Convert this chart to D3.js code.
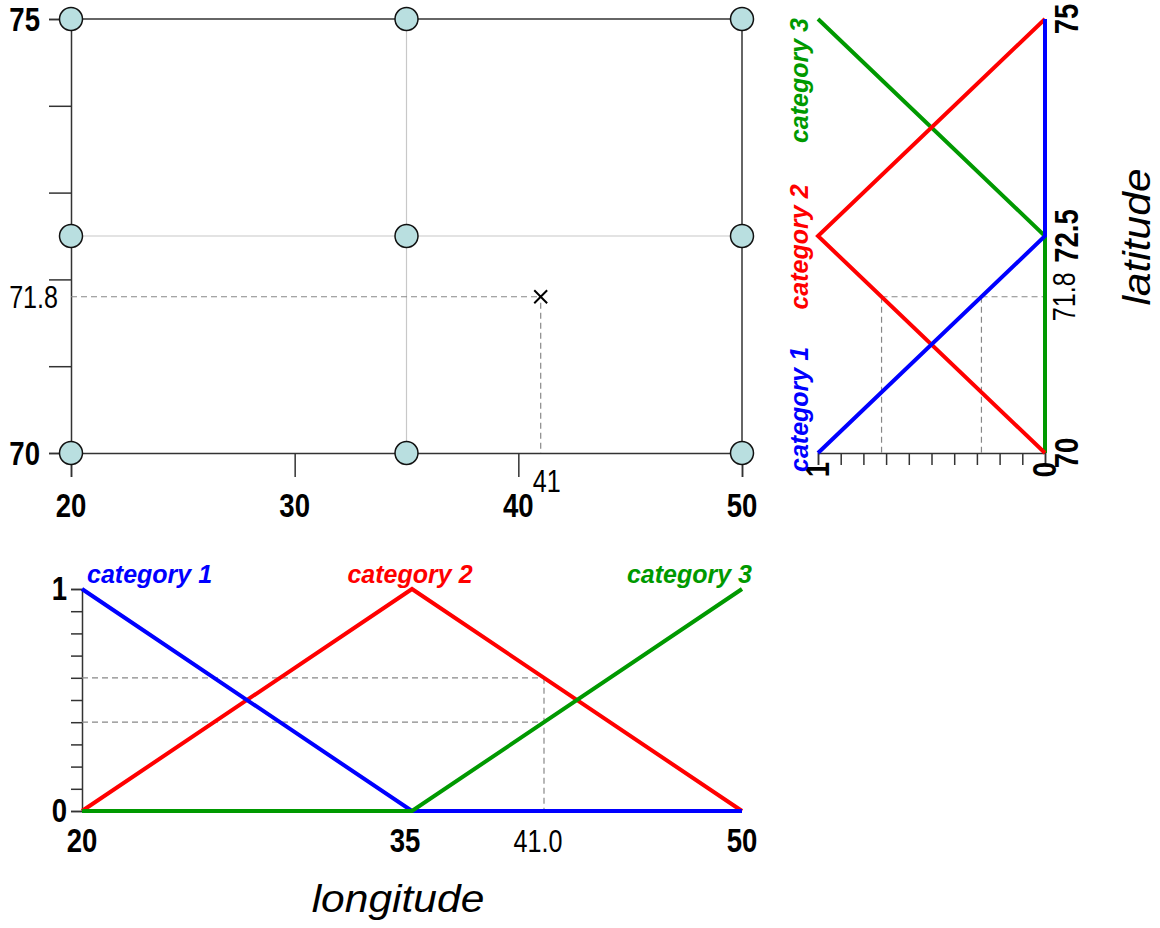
<!DOCTYPE html>
<html>
<head>
<meta charset="utf-8">
<script src="https://d3js.org/d3.v7.min.js"></script>
<style>
  body { margin: 0; background: #fff; }
  .tick-bold { font-family: "Liberation Sans", Arial, sans-serif; font-weight: bold; font-size: 34px; fill: #000; }
  .tick-norm { font-family: "Liberation Sans", Arial, sans-serif; font-size: 31px; fill: #000; }
  .cat { font-family: "Liberation Sans", Arial, sans-serif; font-weight: bold; font-style: italic; font-size: 25px; }
  .title { font-family: "Liberation Sans", Arial, sans-serif; font-style: italic; font-size: 38px; fill: #000; }
</style>
</head>
<body>
<svg id="chart" width="1160" height="928"></svg>
<script>
// data
const lonBreaks = [20, 35, 50];
const latBreaks = [70, 72.5, 75];
const categories = ["category 1", "category 2", "category 3"];
const colors = ["#0000ff", "#ff0000", "#009900"];
// membership of each category at the three breaks
const membership = [
  [1, 0, 0],
  [0, 1, 0],
  [0, 0, 1]
];
const lonTicks = [20, 30, 40, 50];
const latTicks = [70, 71, 72, 73, 74, 75];
const pointLon = 41;
const pointLat = 71.8;
const lonCuts = [0.6, 0.4];   // category 2, category 3 at 41
const latCuts = [0.72, 0.28]; // category 2, category 1 at 71.8

const svg = d3.select("#chart");
const axisCol = "#333";
const narrow = 0.81; // tick labels are condensed

// scales
const x = d3.scaleLinear().domain([20, 50]).range([71, 742]);
const y = d3.scaleLinear().domain([70, 75]).range([453, 19]);
const xb = d3.scaleLinear().domain([20, 50]).range([82, 742]);
const mb = d3.scaleLinear().domain([0, 1]).range([811, 589]);
const mr = d3.scaleLinear().domain([1, 0]).range([818, 1045]);

function label(g, cls, txt, px, py, anchor, rot) {
  return g.append("text").attr("class", cls).attr("text-anchor", anchor)
    .attr("transform", `translate(${px},${py})${rot ? " rotate(-90)" : ""} scale(${narrow},1)`)
    .text(txt);
}

// ---------- main panel ----------
const main = svg.append("g");
// grid
main.append("line").attr("x1", x(35)).attr("x2", x(35)).attr("y1", y(75)).attr("y2", y(70))
  .attr("stroke", "#c8c8c8").attr("stroke-width", 1.2);
main.append("line").attr("x1", x(20)).attr("x2", x(50)).attr("y1", y(72.5)).attr("y2", y(72.5))
  .attr("stroke", "#c8c8c8").attr("stroke-width", 1.2);
// frame top and right
main.append("line").attr("x1", x(20)).attr("x2", x(50)).attr("y1", y(75)).attr("y2", y(75))
  .attr("stroke", axisCol).attr("stroke-width", 1.5);
main.append("line").attr("x1", x(50)).attr("x2", x(50)).attr("y1", y(75)).attr("y2", y(70))
  .attr("stroke", axisCol).attr("stroke-width", 1.5);

// axes
const gx = main.append("g").attr("transform", `translate(0,${y(70)})`)
  .call(d3.axisBottom(x).tickValues(lonTicks).tickSize(24).tickFormat(""));
const gy = main.append("g").attr("transform", `translate(${x(20)},0)`)
  .call(d3.axisLeft(y).tickValues(latTicks).tickSize(22).tickFormat(""));
[gx, gy].forEach(g => {
  g.select(".domain").attr("stroke", axisCol).attr("stroke-width", 1.5);
  g.selectAll(".tick line").attr("stroke", axisCol).attr("stroke-width", 1.5);
});
lonTicks.forEach(d => label(main, "tick-bold", d, x(d), 517, "middle"));
[70, 75].forEach(d => label(main, "tick-bold", d, 40, y(d) + 12, "end"));

// dashed guides to the point
main.append("line").attr("x1", x(20)).attr("x2", x(pointLon)).attr("y1", y(pointLat)).attr("y2", y(pointLat))
  .attr("stroke", "#888").attr("stroke-width", 1.2).attr("stroke-dasharray", "6,4");
main.append("line").attr("x1", x(pointLon)).attr("x2", x(pointLon)).attr("y1", y(pointLat) + 6).attr("y2", y(70))
  .attr("stroke", "#888").attr("stroke-width", 1.2).attr("stroke-dasharray", "6,4");
label(main, "tick-norm", pointLat, 58, y(pointLat) + 11, "end");
label(main, "tick-norm", pointLon, x(pointLon) + 6, 492, "middle");
main.append("path")
  .attr("transform", `translate(${x(pointLon)},${y(pointLat)})`)
  .attr("d", d3.symbol(d3.symbolTimes, 110)())
  .attr("stroke", "#000").attr("stroke-width", 2).attr("fill", "none");

// grid nodes
const nodes = [];
lonBreaks.forEach(lo => latBreaks.forEach(la => nodes.push([lo, la])));
main.selectAll("circle").data(nodes).join("circle")
  .attr("cx", d => x(d[0])).attr("cy", d => y(d[1])).attr("r", 11.5)
  .attr("fill", "#b9dfe0").attr("stroke", "#111").attr("stroke-width", 1.5);

// ---------- bottom panel (longitude membership) ----------
const bot = svg.append("g");
const gbm = bot.append("g").attr("transform", `translate(${xb(20)},0)`)
  .call(d3.axisLeft(mb).tickValues(d3.range(0, 11).map(i => i / 10)).tickSize(11).tickFormat(""));
gbm.select(".domain").attr("stroke", axisCol).attr("stroke-width", 1.5);
gbm.selectAll(".tick line").attr("stroke", axisCol).attr("stroke-width", 1.5);
[0, 1].forEach(d => label(bot, "tick-bold", d, 67, mb(d) + 11, "end"));
lonBreaks.forEach(d => label(bot, "tick-bold", d, xb(d) + (d === 35 ? -7 : 0), 852, "middle"));
label(bot, "tick-norm", pointLon.toFixed(1), xb(pointLon) - 6, 852, "middle");

// dashed cuts
bot.selectAll(".hcut").data(lonCuts).join("line")
  .attr("x1", xb(20)).attr("x2", xb(pointLon)).attr("y1", d => mb(d)).attr("y2", d => mb(d))
  .attr("stroke", "#888").attr("stroke-width", 1.2).attr("stroke-dasharray", "6,4");
bot.append("line").attr("x1", xb(pointLon)).attr("x2", xb(pointLon))
  .attr("y1", mb(d3.max(lonCuts))).attr("y2", mb(0))
  .attr("stroke", "#888").attr("stroke-width", 1.2).attr("stroke-dasharray", "6,4");

const lineB = d3.line().x((d, i) => xb(lonBreaks[i])).y(d => mb(d));
[1, 0, 2].forEach(k => {
  bot.append("path").attr("d", lineB(membership[k]))
    .attr("fill", "none").attr("stroke", colors[k]).attr("stroke-width", 4);
});
bot.append("text").attr("class", "cat").attr("fill", colors[0]).attr("text-anchor", "start")
  .attr("x", xb(20) + 5).attr("y", mb(1) - 6).text(categories[0]);
bot.append("text").attr("class", "cat").attr("fill", colors[1]).attr("text-anchor", "middle")
  .attr("x", xb(35) - 2).attr("y", mb(1) - 6).text(categories[1]);
bot.append("text").attr("class", "cat").attr("fill", colors[2]).attr("text-anchor", "end")
  .attr("x", xb(50) + 10).attr("y", mb(1) - 6).text(categories[2]);

bot.append("text").attr("class", "title").attr("text-anchor", "middle")
  .attr("transform", "translate(398,912) scale(1.12,1)").text("longitude");

// ---------- right panel (latitude membership) ----------
const rp = svg.append("g");
const grm = rp.append("g").attr("transform", `translate(0,${y(70)})`)
  .call(d3.axisBottom(mr).tickValues(d3.range(0, 11).map(i => i / 10)).tickSize(12).tickFormat(""));
grm.select(".domain").attr("stroke", axisCol).attr("stroke-width", 1.5);
grm.selectAll(".tick line").attr("stroke", axisCol).attr("stroke-width", 1.5);
[1, 0].forEach(d => label(rp, "tick-bold", d, mr(d) + 11, 462, "end", true));

// dashed cuts
rp.append("line").attr("x1", mr(d3.max(latCuts))).attr("x2", mr(0))
  .attr("y1", y(pointLat)).attr("y2", y(pointLat))
  .attr("stroke", "#888").attr("stroke-width", 1.2).attr("stroke-dasharray", "6,4");
rp.selectAll(".vcut").data(latCuts).join("line")
  .attr("x1", d => mr(d)).attr("x2", d => mr(d)).attr("y1", y(pointLat)).attr("y2", y(70))
  .attr("stroke", "#888").attr("stroke-width", 1.2).attr("stroke-dasharray", "6,4");

const lineR = d3.line().x(d => mr(d)).y((d, i) => y(latBreaks[i]));
[2, 1, 0].forEach(k => {
  rp.append("path").attr("d", lineR(membership[k]))
    .attr("fill", "none").attr("stroke", colors[k]).attr("stroke-width", 4);
});

latBreaks.forEach(d => label(rp, "tick-bold", d, 1078, y(d), "middle", true));
label(rp, "tick-norm", pointLat, 1075, y(pointLat), "middle", true);

rp.append("text").attr("class", "cat").attr("fill", colors[0]).attr("text-anchor", "start")
  .attr("transform", `translate(${mr(1) - 10},${y(70) + 19}) rotate(-90)`).text(categories[0]);
rp.append("text").attr("class", "cat").attr("fill", colors[1]).attr("text-anchor", "middle")
  .attr("transform", `translate(${mr(1) - 10},${y(72.5) + 11}) rotate(-90)`).text(categories[1]);
rp.append("text").attr("class", "cat").attr("fill", colors[2]).attr("text-anchor", "end")
  .attr("transform", `translate(${mr(1) - 10},${y(75) - 1}) rotate(-90)`).text(categories[2]);

rp.append("text").attr("class", "title").attr("text-anchor", "middle")
  .attr("transform", `translate(1150,237) rotate(-90) scale(1.12,1)`).text("latitude");
</script>
</body>
</html>
